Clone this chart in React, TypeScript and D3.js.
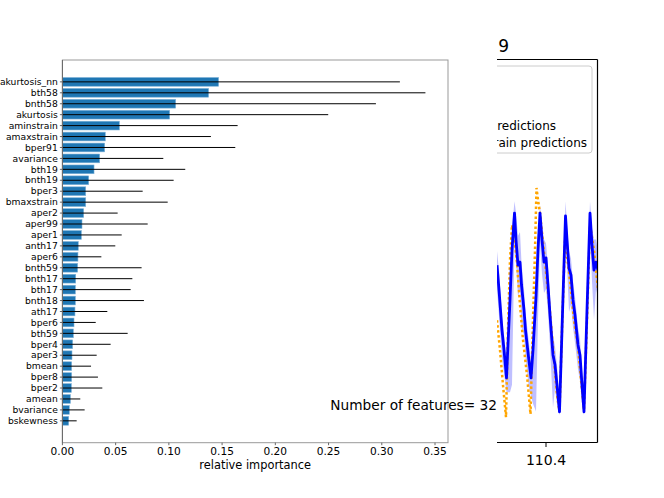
import React from "react";
import * as d3 from "d3";

// feature importances (sorted, highest first)
const features = [
  "akurtosis_nn", "bth58", "bnth58", "akurtosis", "aminstrain", "amaxstrain",
  "bper91", "avariance", "bth19", "bnth19", "bper3", "bmaxstrain", "aper2",
  "aper99", "aper1", "anth17", "aper6", "bnth59", "bnth17", "bth17", "bnth18",
  "ath17", "bper6", "bth59", "bper4", "aper3", "bmean", "bper8", "bper2",
  "amean", "bvariance", "bskewness",
];
const importance = [
  0.1467, 0.1373, 0.1064, 0.1007, 0.0535, 0.0403, 0.0397, 0.035, 0.0297,
  0.0247, 0.0219, 0.0219, 0.02, 0.0184, 0.0178, 0.0149, 0.0146, 0.0143, 0.0125,
  0.0122, 0.0122, 0.0118, 0.0109, 0.0103, 0.0096, 0.009, 0.0087, 0.0087,
  0.0084, 0.0075, 0.0065, 0.0059,
];
const importanceStd = [
  0.1703, 0.2037, 0.1881, 0.149, 0.1111, 0.0992, 0.1227, 0.0598, 0.0857,
  0.0798, 0.0535, 0.077, 0.0319, 0.0617, 0.0379, 0.0348, 0.022, 0.0601, 0.0532,
  0.0519, 0.0644, 0.0304, 0.0204, 0.051, 0.0357, 0.0232, 0.0182, 0.0247,
  0.0291, 0.0093, 0.0144, 0.0075,
];
const xTicks = [0, 0.05, 0.1, 0.15, 0.2, 0.25, 0.3, 0.35];

// time series in the panel behind
const time = [
  110.302, 110.306, 110.312, 110.316, 110.321, 110.328, 110.332, 110.337,
  110.34, 110.344, 110.348, 110.351, 110.356, 110.359, 110.365, 110.37,
  110.374, 110.38, 110.384, 110.388, 110.392, 110.396, 110.4, 110.404,
  110.408, 110.414, 110.418, 110.422, 110.427, 110.432, 110.439, 110.442,
  110.446, 110.45, 110.454, 110.458, 110.464, 110.468, 110.472, 110.476,
  110.482, 110.488, 110.492, 110.496, 110.5, 110.504,
];
const predMean = [
  0.463, 0.398, 0.293, 0.241, 0.168, 0.372, 0.503, 0.599, 0.529, 0.463, 0.471,
  0.411, 0.346, 0.293, 0.223, 0.168, 0.241, 0.38, 0.503, 0.599, 0.529, 0.471,
  0.482, 0.411, 0.332, 0.228, 0.202, 0.149, 0.079, 0.293, 0.592, 0.529, 0.455,
  0.437, 0.372, 0.332, 0.254, 0.228, 0.149, 0.079, 0.346, 0.599, 0.516, 0.45,
  0.471, 0.45,
];
const predHigh = [
  0.5, 0.45, 0.33, 0.28, 0.22, 0.42, 0.56, 0.63, 0.6, 0.54, 0.55, 0.47, 0.4,
  0.34, 0.27, 0.21, 0.29, 0.42, 0.55, 0.62, 0.57, 0.53, 0.52, 0.46, 0.38, 0.28,
  0.25, 0.2, 0.11, 0.33, 0.63, 0.57, 0.5, 0.48, 0.42, 0.38, 0.3, 0.27, 0.19,
  0.11, 0.39, 0.63, 0.56, 0.53, 0.53, 0.5,
];
const predLow = [
  0.4, 0.33, 0.22, 0.18, 0.13, 0.13, 0.15, 0.52, 0.47, 0.38, 0.4, 0.3, 0.28,
  0.22, 0.15, 0.12, 0.1, 0.08, 0.32, 0.52, 0.44, 0.39, 0.4, 0.34, 0.25, 0.09,
  0.14, 0.1, 0.07, 0.2, 0.54, 0.46, 0.34, 0.36, 0.3, 0.26, 0.19, 0.16, 0.1,
  0.07, 0.28, 0.55, 0.42, 0.32, 0.4, 0.38,
];
const trainTime = [
  110.302, 110.308, 110.314, 110.32, 110.324, 110.328, 110.332, 110.336,
  110.342, 110.348, 110.354, 110.362, 110.369, 110.374, 110.378, 110.381,
  110.384, 110.388, 110.398, 110.408, 110.416, 110.422, 110.427, 110.432,
  110.438, 110.446, 110.456, 110.464, 110.47, 110.476, 110.482, 110.488,
  110.496, 110.504,
];
const trainPred = [
  0.319, 0.241, 0.149, 0.065, 0.293, 0.476, 0.568, 0.542, 0.469, 0.359, 0.267,
  0.175, 0.073, 0.319, 0.503, 0.665, 0.634, 0.599, 0.471, 0.34, 0.215, 0.123,
  0.079, 0.293, 0.529, 0.445, 0.319, 0.249, 0.162, 0.084, 0.319, 0.568, 0.503,
  0.398,
];
const timeTicks = [110.4];

const W = 664;
const H = 498;
const font = "DejaVu Sans, sans-serif";

export default function App() {
  // left axes (bar chart)
  const L = { left: 62.4, right: 448, top: 60, bottom: 442.7 };
  const x = d3.scaleLinear().domain([0, 0.3622]).range([L.left, L.right]);
  const y = d3
    .scaleLinear()
    .domain([-2, features.length + 1])
    .range([L.top, L.bottom]);
  const barH = 0.8 * (y(1) - y(0));

  // right axes (time series, mostly hidden)
  const R = { left: 497, right: 597.5, top: 59.5, bottom: 442.5 };
  const tx = d3.scaleLinear().domain([110.3, 110.5]).range([496, 596]);
  const ty = d3.scaleLinear().domain([0, 1]).range([442, 60]);
  const band = d3
    .area<number>()
    .x((i) => tx(time[i]))
    .y0((i) => ty(predLow[i]))
    .y1((i) => ty(predHigh[i]));
  const meanLine = d3
    .line<number>()
    .x((i) => tx(time[i]))
    .y((i) => ty(predMean[i]));
  const trainLine = d3
    .line<number>()
    .x((i) => tx(trainTime[i]))
    .y((i) => ty(trainPred[i]));

  return (
    <div style={{ position: "absolute", left: 0, top: 0 }}>
      <svg width={W} height={H} style={{ display: "block", fontFamily: font }}>
        <rect width={W} height={H} fill="#fff" />
        <defs>
          <clipPath id="rclip">
            <rect x={R.left} y={R.top} width={R.right - R.left} height={R.bottom - R.top} />
          </clipPath>
          <clipPath id="rclipText">
            <rect x={R.left} y={0} width={W - R.left} height={H} />
          </clipPath>
          <clipPath id="lclip">
            <rect x={L.left} y={L.top} width={L.right - L.left} height={L.bottom - L.top} />
          </clipPath>
        </defs>

        {/* right panel */}
        <g clipPath="url(#rclip)">
          <path d={band(d3.range(time.length)) ?? ""} fill="#0000ff" fillOpacity={0.25} />
          <path
            d={trainLine(d3.range(trainTime.length)) ?? ""}
            fill="none"
            stroke="#ffa500"
            strokeWidth={2.5}
            strokeDasharray="2.5 2.5"
          />
          <path
            d={meanLine(d3.range(time.length)) ?? ""}
            fill="none"
            stroke="#0000ff"
            strokeWidth={2.8}
            strokeLinejoin="round"
          />
        </g>
        <g clipPath="url(#rclipText)">
          <rect
            x={470}
            y={66}
            width={122}
            height={87}
            rx={3}
            fill="#fff"
            fillOpacity={0.8}
            stroke="#cccccc"
          />
          <text x={556} y={130} fontSize={12} textAnchor="end" fill="#000">
            predictions
          </text>
          <text x={587} y={147} fontSize={12} textAnchor="end" fill="#000">
            rain predictions
          </text>
          <text x={509} y={51.5} fontSize={17} textAnchor="end" fill="#000">
            9
          </text>
          <line x1={R.left} x2={R.right} y1={R.top} y2={R.top} stroke="#000" strokeWidth={1.2} />
          <line x1={R.left} x2={R.right} y1={R.bottom} y2={R.bottom} stroke="#000" strokeWidth={1.2} />
          <line x1={R.right} x2={R.right} y1={R.top} y2={R.bottom} stroke="#000" strokeWidth={1.2} />
          {timeTicks.map((t) => (
            <g key={t}>
              <line x1={tx(t)} x2={tx(t)} y1={R.bottom} y2={R.bottom + 4.5} stroke="#000" strokeWidth={1} />
              <text x={tx(t)} y={465} fontSize={14} textAnchor="middle" fill="#000">
                {t.toFixed(1)}
              </text>
            </g>
          ))}
        </g>

        {/* left panel */}
        <g clipPath="url(#lclip)">
          {features.map((f, i) => (
            <rect
              key={f}
              x={x(0)}
              y={y(i) - barH / 2}
              width={x(importance[i]) - x(0)}
              height={barH}
              fill="#1f77b4"
              stroke="#7fb2d8"
              strokeWidth={0.6}
            />
          ))}
          {features.map((f, i) => (
            <line
              key={f}
              x1={x(Math.max(0, importance[i] - importanceStd[i]))}
              x2={x(importance[i] + importanceStd[i])}
              y1={y(i)}
              y2={y(i)}
              stroke="#000"
              strokeWidth={1}
            />
          ))}
        </g>
        <rect
          x={L.left}
          y={L.top}
          width={L.right - L.left}
          height={L.bottom - L.top}
          fill="none"
          stroke="#999"
          strokeWidth={1}
        />
        <line x1={L.left} x2={L.left} y1={L.top} y2={L.bottom} stroke="#666" strokeWidth={1} />
        {features.map((f, i) => (
          <g key={f}>
            <line x1={L.left - 2.5} x2={L.left} y1={y(i)} y2={y(i)} stroke="#444" strokeWidth={0.8} />
            <text x={57.8} y={y(i)} dy="0.35em" fontSize={9.2} textAnchor="end" fill="#000">
              {f}
            </text>
          </g>
        ))}
        {xTicks.map((t) => (
          <g key={t}>
            <line x1={x(t)} x2={x(t)} y1={L.bottom} y2={L.bottom + 2.5} stroke="#444" strokeWidth={0.8} />
            <text x={x(t)} y={455} fontSize={10.6} textAnchor="middle" fill="#000">
              {t.toFixed(2)}
            </text>
          </g>
        ))}
        <text x={(L.left + L.right) / 2} y={469} fontSize={11.4} textAnchor="middle" fill="#000">
          relative importance
        </text>
        <text x={497} y={410} fontSize={13.7} textAnchor="end" fill="#000">
          Number of features= 32
        </text>
      </svg>
    </div>
  );
}
